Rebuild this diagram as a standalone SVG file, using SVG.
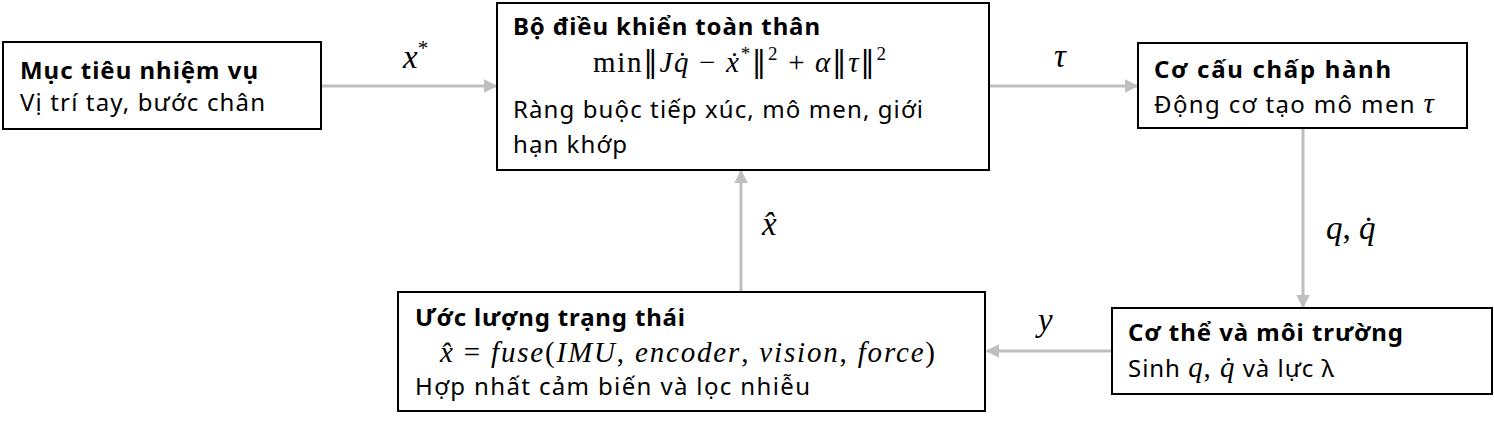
<svg xmlns="http://www.w3.org/2000/svg" width="1494" height="422" viewBox="0 0 1494 422">
<style>
.box{fill:#fff;stroke:#000;stroke-width:2}
.t{font-family:"Noto Sans","Liberation Sans",sans-serif;font-size:24px;fill:#000}
.b{font-weight:bold}
.m{font-family:"Liberation Serif","DejaVu Serif",serif;font-size:29px;fill:#000}
.l{font-family:"Liberation Serif","DejaVu Serif",serif;font-size:33px;fill:#000;font-style:italic}
.i{font-style:italic}
.n{font-family:"DejaVu Serif",serif;font-style:normal}
.c{fill:none;stroke:#BFBFBF;stroke-width:3}
</style>
<defs>
<marker id="ah" viewBox="0 0 10 10" refX="9" refY="5" markerWidth="4.5" markerHeight="4.5" markerUnits="strokeWidth" orient="auto">
<path d="M0,0 L10,5 L0,10 z" fill="#BFBFBF"/>
</marker>
</defs>
<g id="connectors">
<line class="c" x1="322" y1="86" x2="496" y2="86" marker-end="url(#ah)"/>
<line class="c" x1="990" y1="86" x2="1137" y2="86" marker-end="url(#ah)"/>
<line class="c" x1="1303" y1="129" x2="1303" y2="307" marker-end="url(#ah)"/>
<line class="c" x1="1111" y1="351" x2="987" y2="351" marker-end="url(#ah)"/>
<line class="c" x1="741" y1="291" x2="741" y2="171" marker-end="url(#ah)"/>
<text class="l" x="403" y="68">x<tspan font-size="21" dy="-13" font-style="normal">*</tspan></text>
<text class="l" x="1054" y="67">τ</text>
<text class="l" x="1326" y="239">q<tspan font-style="normal">, </tspan>q̇</text>
<text class="l" x="762" y="235">x̂</text>
<text class="l" x="1038" y="331">y</text>
</g>
<g id="n1">
<rect class="box" x="3" y="42" width="318" height="87"/>
<text class="t b" x="20" y="79" textLength="238" lengthAdjust="spacing">Mục tiêu nhiệm vụ</text>
<text class="t" x="20" y="111" textLength="245" lengthAdjust="spacing">Vị trí tay, bước chân</text>
</g>
<g id="n2">
<rect class="box" x="497" y="3" width="492" height="167"/>
<text class="t b" x="513" y="35" textLength="307" lengthAdjust="spacing">Bộ điều khiển toàn thân</text>
<text class="m" x="593" y="72" textLength="293" lengthAdjust="spacing">min<tspan class="n">‖</tspan><tspan class="i">Jq̇</tspan> − <tspan class="i">ẋ</tspan><tspan font-size="19" dy="-12">*</tspan><tspan class="n" dy="12">‖</tspan><tspan font-size="19" dy="-12">2</tspan><tspan dy="12"> + </tspan><tspan class="i">α</tspan><tspan class="n">‖</tspan><tspan class="i">τ</tspan><tspan class="n">‖</tspan><tspan font-size="19" dy="-12">2</tspan></text>
<text class="t" x="513" y="118" textLength="410" lengthAdjust="spacing">Ràng buộc tiếp xúc, mô men, giới</text>
<text class="t" x="513" y="153" textLength="114" lengthAdjust="spacing">hạn khớp</text>
</g>
<g id="n3">
<rect class="box" x="1138" y="43" width="329" height="85"/>
<text class="t b" x="1154" y="78" textLength="237" lengthAdjust="spacing">Cơ cấu chấp hành</text>
<text class="t" x="1154" y="113" textLength="280" lengthAdjust="spacing">Động cơ tạo mô men <tspan class="m i">τ</tspan></text>
</g>
<g id="n4">
<rect class="box" x="1112" y="308" width="380" height="86"/>
<text class="t b" x="1128" y="341" textLength="275" lengthAdjust="spacing">Cơ thể và môi trường</text>
<text class="t" x="1128" y="377" textLength="206" lengthAdjust="spacing">Sinh <tspan class="m i">q</tspan><tspan class="m">, </tspan><tspan class="m i">q̇</tspan> và lực λ</text>
</g>
<g id="n5">
<rect class="box" x="398" y="292" width="587" height="119"/>
<text class="t b" x="415" y="326" textLength="270" lengthAdjust="spacing">Ước lượng trạng thái</text>
<text class="m" x="440" y="362" textLength="495" lengthAdjust="spacing"><tspan class="i">x̂</tspan> = <tspan class="i">fuse</tspan>(<tspan class="i">IMU</tspan>, <tspan class="i">encoder</tspan>, <tspan class="i">vision</tspan>, <tspan class="i">force</tspan>)</text>
<text class="t" x="415" y="395" textLength="395" lengthAdjust="spacing">Hợp nhất cảm biến và lọc nhiễu</text>
</g>
</svg>
